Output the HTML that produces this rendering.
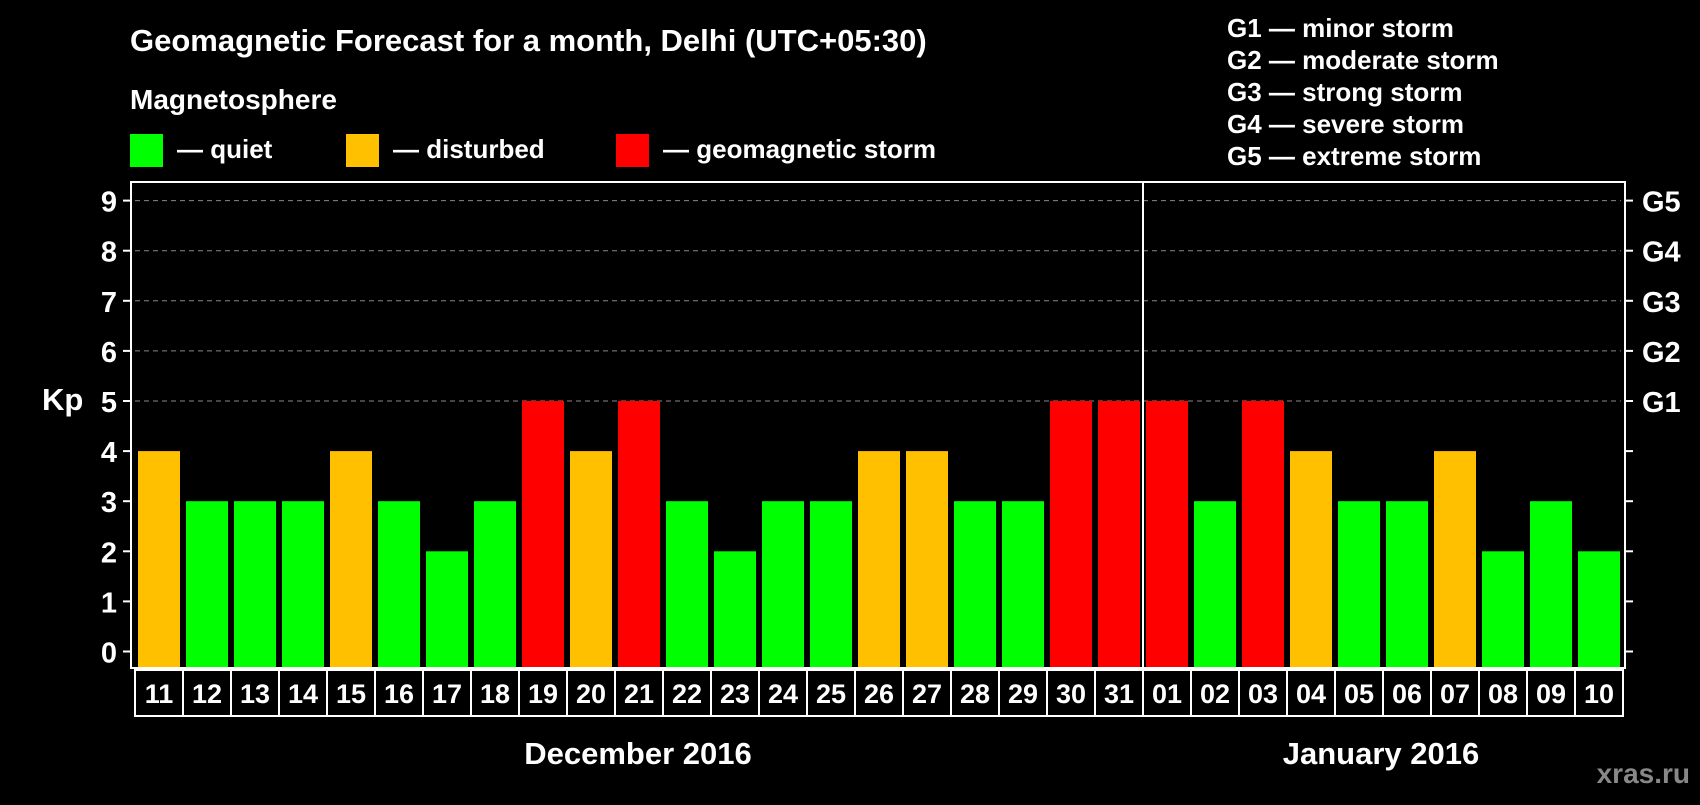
<!DOCTYPE html>
<html><head><meta charset="utf-8"><style>
body{margin:0;background:#000;width:1700px;height:800px;overflow:hidden;font-family:"Liberation Sans",sans-serif;font-weight:bold;color:#fff}
</style></head><body>
<svg width="1700" height="800" xmlns="http://www.w3.org/2000/svg" font-family="Liberation Sans, sans-serif" font-weight="bold" fill="#fff">
<text x="130" y="51" font-size="31">Geomagnetic Forecast for a month, Delhi (UTC+05:30)</text>
<text x="130" y="109" font-size="28">Magnetosphere</text>
<rect x="130" y="134" width="33" height="33" fill="#00ff00"/>
<text x="177" y="158" font-size="26">— quiet</text>
<rect x="346" y="134" width="33" height="33" fill="#ffc000"/>
<text x="393" y="158" font-size="26">— disturbed</text>
<rect x="616" y="134" width="33" height="33" fill="#ff0000"/>
<text x="663" y="158" font-size="26">— geomagnetic storm</text>
<g font-size="26">
<text x="1227" y="37">G1 — minor storm</text>
<text x="1227" y="69">G2 — moderate storm</text>
<text x="1227" y="101">G3 — strong storm</text>
<text x="1227" y="133">G4 — severe storm</text>
<text x="1227" y="165">G5 — extreme storm</text>
</g>
<text x="42" y="410" font-size="31">Kp</text>
<g id="plot"></g>
<text x="638" y="764" font-size="31" text-anchor="middle">December 2016</text>
<text x="1381" y="764" font-size="31" text-anchor="middle">January 2016</text>
<text x="1690" y="783" font-size="28" fill="#888" text-anchor="end">xras.ru</text>
</svg>
<script>
const days=["11","12","13","14","15","16","17","18","19","20","21","22","23","24","25","26","27","28","29","30","31","01","02","03","04","05","06","07","08","09","10"];
const kp=[4,3,3,3,4,3,2,3,5,4,5,3,2,3,3,4,4,3,3,5,5,5,3,5,4,3,3,4,2,3,2];
const yTicks=[0,1,2,3,4,5,6,7,8,9];
const gLabels=["","","","","","G1","G2","G3","G4","G5"];
const NS="http://www.w3.org/2000/svg";
const g=document.getElementById('plot');
const L=131,R=1625,T=182,B=668,x0=135,pitch=(1623-135)/days.length;
const y=v=>651.5-v*50.1;
function mk(t,a){const e=document.createElementNS(NS,t);for(const k in a)e.setAttribute(k,a[k]);g.appendChild(e);return e;}
yTicks.forEach((v,i)=>{
 if(v>=5){const gl=mk('line',{x1:L+4,x2:R-4,y1:y(v),y2:y(v),stroke:'#888','stroke-dasharray':'5,4','stroke-width':1});}
 const tl=mk('line',{x1:L-8,x2:L,y1:y(v),y2:y(v),stroke:'#fff','stroke-width':2});
 const tr=mk('line',{x1:R,x2:R+8,y1:y(v),y2:y(v),stroke:'#fff','stroke-width':2});
 const t=mk('text',{x:L-14,y:y(v)+11,'font-size':29,'text-anchor':'end'});t.textContent=v;
 if(gLabels[i]){const t2=mk('text',{x:R+17,y:y(v)+11,'font-size':29});t2.textContent=gLabels[i];}
});
kp.forEach((v,i)=>{
 const c=v>=5?'#ff0000':v>=4?'#ffc000':'#00ff00';
 const r=mk('rect',{x:x0+i*pitch+3,y:y(v),width:pitch-6,height:B-y(v),fill:c});
 
 const cell=mk('rect',{x:x0+i*pitch,y:B+2,width:pitch,height:46,fill:'none',stroke:'#fff','stroke-width':2});
 
 const t=mk('text',{x:x0+(i+.5)*pitch,y:B+35,'font-size':27,'text-anchor':'middle'});t.textContent=days[i];
 
});
const f=mk('rect',{x:L,y:T,width:R-L,height:B-T,fill:'none',stroke:'#fff','stroke-width':2});

const sx=x0+days.indexOf("01")*pitch;
const s=mk('line',{x1:sx,x2:sx,y1:T,y2:B,stroke:'#fff','stroke-width':2});

</script>
</body></html>
